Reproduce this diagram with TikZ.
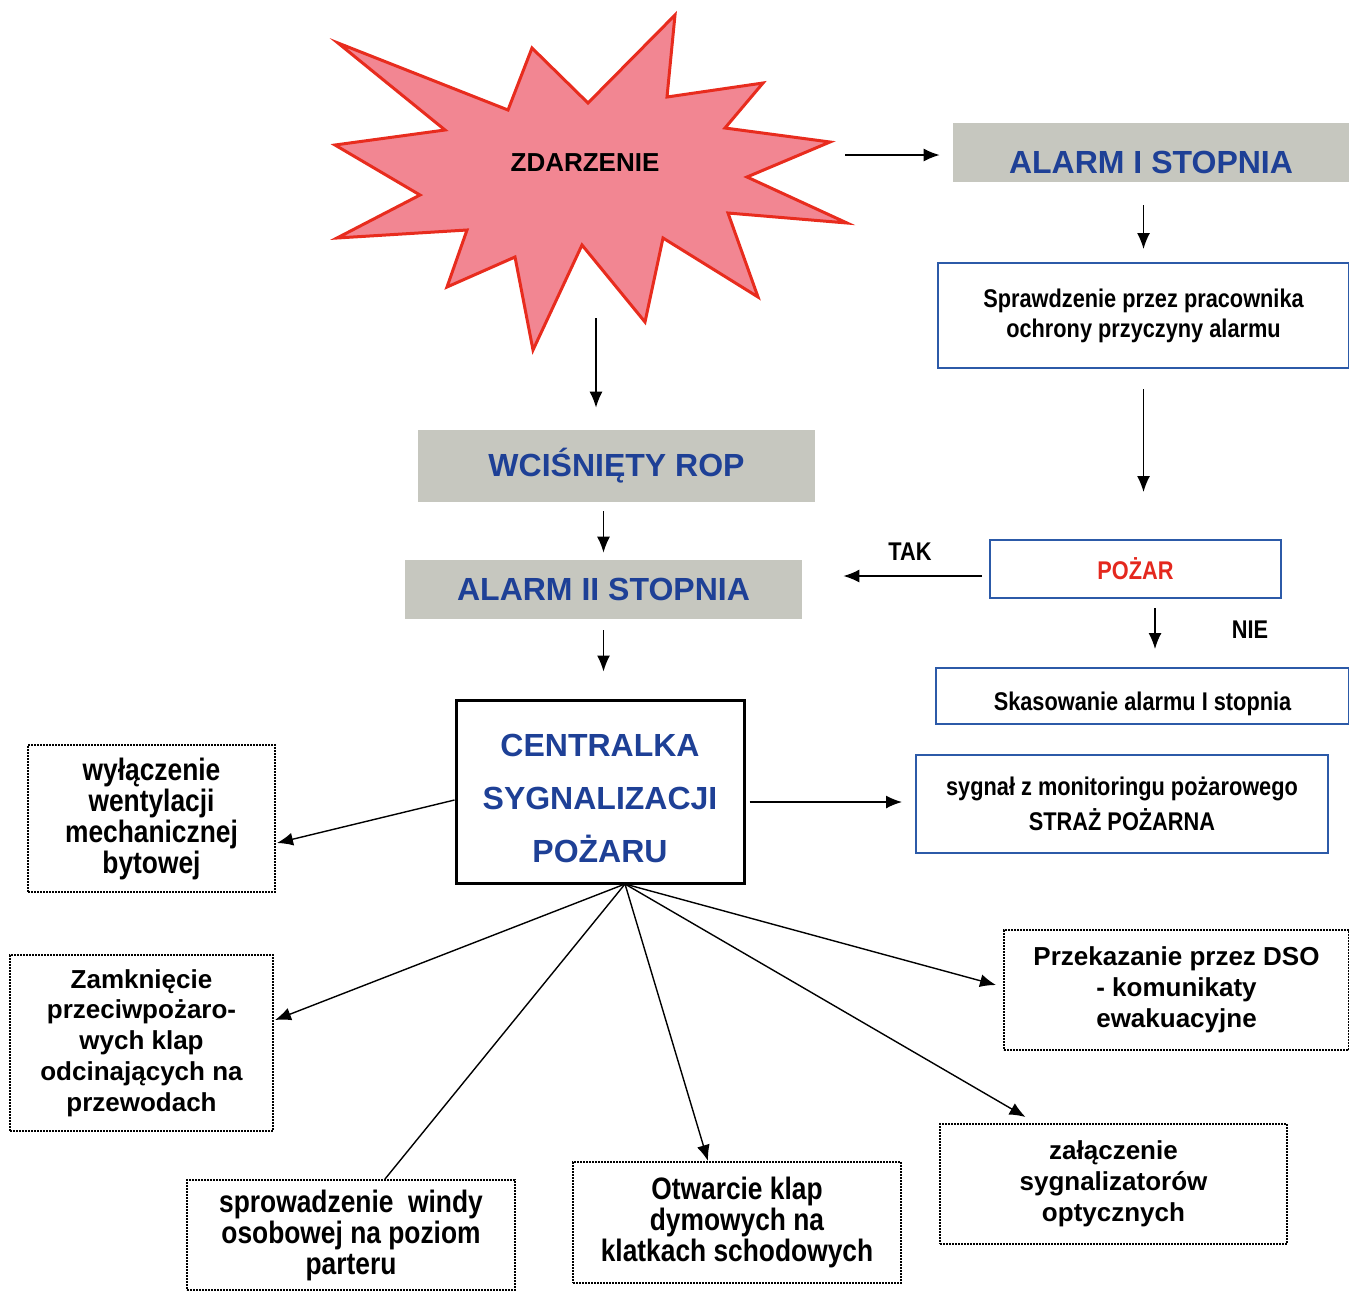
\documentclass[tikz,border=0pt]{standalone}
\usepackage{fontspec}
\setmainfont{Liberation Sans}
\newfontfamily\narrowfont{Liberation Sans}[FakeStretch=0.85]
\usetikzlibrary{arrows.meta,calc}
\definecolor{starfill}{RGB}{242,134,146}
\definecolor{starline}{RGB}{232,44,30}
\definecolor{gbox}{RGB}{198,199,191}
\definecolor{tblue}{RGB}{30,64,150}
\definecolor{bblue}{RGB}{44,90,168}
\definecolor{pred}{RGB}{228,40,30}
\begin{document}
\begin{tikzpicture}[x=0.5pt,y=-0.5pt,
  arr/.style={-{Latex[length=8pt,width=6.5pt]},line width=0.7pt},
  plainline/.style={line width=0.7pt},
  graybox/.style={fill=gbox,text=tblue,inner sep=0pt,font=\bfseries\fontsize{16}{19}\selectfont},
  bluebox/.style={draw=bblue,line width=1pt,inner sep=0pt,align=center},
  dotbox/.style={draw=black,line width=1pt,dash pattern=on 0.9pt off 0.6pt,inner sep=0pt,align=center},
  narA/.style={font=\narrowfont\bfseries\fontsize{12.8}{15}\selectfont},
  narB/.style={font=\narrowfont\bfseries\fontsize{15.5}{15.5}\selectfont},
  regA/.style={font=\bfseries\fontsize{13}{15.4}\selectfont},
]
\useasboundingbox (0,0) rectangle (1349,1292);

% star
\draw[fill=starfill,draw=starline,line width=1.5pt,line join=miter]
  (338,43) -- (508,110) -- (532,48) -- (588,103) -- (675,15) -- (667,97)
  -- (763,83) -- (725,128) -- (830,142) -- (747,177) -- (847,223) -- (728,213)
  -- (758,297) -- (663,238) -- (645,322) -- (582,245) -- (533,350) -- (515,257)
  -- (447,287) -- (467,230) -- (337,238) -- (420,195) -- (335,145) -- (445,130) -- cycle;
\node[font=\bfseries\fontsize{13}{15}\selectfont] (zd) at (585,163) {ZDARZENIE};
\coordinate (starR) at (845,155);
\coordinate (starB) at (596,318);

% right column
\node[graybox,minimum width=198pt,minimum height=29.5pt,text height=22pt,text depth=0.6pt] (a1) at (1151,152.5) {ALARM I STOPNIA};
\node[bluebox,narA,minimum width=205.5pt,minimum height=52.5pt] (spr) at (1143.5,315.5) {Sprawdzenie przez pracownika\\ochrony przyczyny alarmu};
\node[bluebox,narA,text=pred,minimum width=145.5pt,minimum height=29pt] (poz) at (1135.5,569) {POŻAR};
\node[bluebox,narA,minimum width=206.5pt,minimum height=28pt,text height=14pt,text depth=0pt] (kas) at (1142.5,696) {Skasowanie alarmu I stopnia};
\node[narA] (tak) at (910,552) {TAK};
\node[narA] (nie) at (1250,630) {NIE};

% middle column
\node[graybox,minimum width=198.5pt,minimum height=36pt] (rop) at (616.5,466) {WCIŚNIĘTY ROP};
\node[graybox,minimum width=198.5pt,minimum height=29.5pt] (a2) at (603.5,589.5) {ALARM II STOPNIA};
\node[draw=black,line width=1.5pt,inner sep=0pt,align=center,text=tblue,font=\bfseries\fontsize{16}{26.5}\selectfont,minimum width=144pt,minimum height=91.5pt] (csp) at (600,791.5) {\rule{0pt}{18pt}CENTRALKA\\SYGNALIZACJI\\POŻARU};
\node[bluebox,font=\narrowfont\bfseries\fontsize{12.8}{17.5}\selectfont,minimum width=206pt,minimum height=49pt] (syg) at (1122,804) {sygnał z monitoringu pożarowego\\STRAŻ POŻARNA};

% outputs
\node[dotbox,narB,minimum width=123.5pt,minimum height=73.5pt] (wyl) at (151.5,818.5) {wyłączenie\\wentylacji\\mechanicznej\\bytowej};
\node[dotbox,regA,minimum width=131.5pt,minimum height=88pt] (zam) at (141.5,1043) {Zamknięcie\\przeciwpożaro-\\wych klap\\odcinających na\\przewodach};
\node[dotbox,narB,minimum width=164pt,minimum height=55pt] (win) at (351,1235) {sprowadzenie\ \ windy\\osobowej na poziom\\parteru};
\node[dotbox,narB,minimum width=164pt,minimum height=60.5pt] (otw) at (737,1222.5) {Otwarcie klap\\dymowych na\\klatkach schodowych};
\node[dotbox,regA,minimum width=173.5pt,minimum height=60pt] (zal) at (1113.5,1184) {załączenie\\sygnalizatorów\\optycznych};
\node[dotbox,regA,minimum width=172.5pt,minimum height=60pt] (prz) at (1176.5,990) {Przekazanie przez DSO\\- komunikaty\\ewakuacyjne};

\coordinate (fan) at (625,884);
\coordinate (tk) at ($(poz.west)+(0,7)$);
\coordinate (nn) at ($(poz.south)+(19.5,0)$);
\coordinate (ce) at ($(csp.east)+(0,10.5)$);

% connectors
\draw[arr,shorten >=6.5pt] (starR) -- (starR -| a1.west);
\draw[arr,shorten <=11.5pt,shorten >=6.5pt] (a1.south -| spr.north) -- (spr.north);
\draw[arr,shorten <=10pt,shorten >=23.5pt] (spr.south) -- (spr.south |- poz.north);
\draw[arr,shorten <=3.5pt,shorten >=20.5pt] (tk) -- (tk -| a2.east);
\draw[arr,shorten <=4.5pt,shorten >=9pt] (nn) -- (nn |- kas.north);
\draw[arr,shorten >=11pt] (starB) -- (starB |- rop.north);
\draw[arr,shorten <=4.5pt,shorten >=3.5pt] (rop.south -| a2.north) -- (a2.north);
\draw[arr,shorten <=5.5pt,shorten >=13.5pt] (a2.south) -- (a2.south |- csp.north);
\draw[arr,shorten <=2pt,shorten >=6.5pt] (ce) -- (ce -| syg.west);
\draw[arr] ($(csp.west)+(0,8.5)$) -- ($(wyl.east)+(1,24.5)$);
\draw[arr] (fan) -- ($(zam.east)+(1,-23)$);
\draw[plainline] (fan) -- ($(win.north)+(34,0)$);
\draw[arr] (fan) -- ($(otw.north)+(-29,0)$);
\draw[arr] (fan) -- ($(zal.north)+(-88,-6)$);
\draw[arr] (fan) -- ($(prz.west)+(-7,-5)$);
\end{tikzpicture}
\end{document}
